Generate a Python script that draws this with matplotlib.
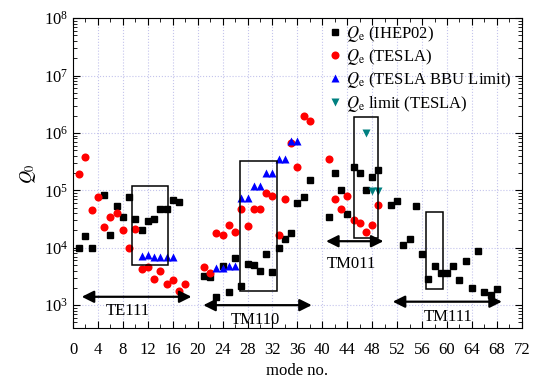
import matplotlib
matplotlib.use("Agg")
import matplotlib.pyplot as plt
from matplotlib.patches import Rectangle
from matplotlib.ticker import MultipleLocator, LogLocator, NullFormatter

plt.rcParams['font.family'] = ['Liberation Serif', 'DejaVu Serif']
plt.rcParams['mathtext.fontset'] = 'stix'

ihep_modes = [1, 2, 3, 5, 6, 7, 8, 9, 10, 11, 12, 13, 14, 15, 16, 17,
              21, 22, 23, 24, 25, 26, 27, 28, 29, 30, 31, 32, 33, 34, 35, 36, 37, 38,
              41, 42, 43, 44, 45, 46, 47, 48, 49, 51, 52, 53, 54, 55, 56,
              57, 58, 59, 60, 61, 62, 63, 64, 65, 66, 67, 68]
ihep_q = [1.0e4, 1.6e4, 1.0e4, 8.3e4, 1.7e4, 5.4e4, 3.5e4, 7.8e4, 3.2e4, 2.0e4, 2.9e4, 3.2e4, 4.8e4, 4.8e4, 6.7e4, 6.3e4,
          3.2e3, 3.1e3, 1.4e3, 4.9e3, 1.7e3, 6.5e3, 2.2e3, 5.2e3, 5.0e3, 3.9e3, 7.9e3, 3.8e3, 1.0e4, 1.4e4, 1.8e4, 6.0e4, 7.6e4, 1.5e5,
          3.4e4, 2.0e5, 1.0e5, 3.9e4, 2.5e5, 2.0e5, 1.0e5, 1.7e5, 2.3e5, 5.6e4, 6.6e4, 1.1e4, 1.4e4, 5.3e4, 7.9e3,
          2.9e3, 4.9e3, 3.7e3, 3.6e3, 4.8e3, 2.7e3, 5.9e3, 2.0e3, 8.7e3, 1.7e3, 1.5e3, 1.9e3]

tesla_modes = [1, 2, 3, 4, 5, 6, 7, 8, 9, 10, 11, 12, 13, 14, 15, 16, 17, 18,
               21, 22, 23, 24, 25, 26, 27, 28, 29, 30, 31, 32, 33, 34, 35, 36, 37, 38,
               41, 42, 43, 44, 45, 46, 47, 48, 49]
tesla_q = [1.9e5, 3.8e5, 4.6e4, 7.6e4, 2.3e4, 3.5e4, 4.0e4, 2.0e4, 9.8e3, 2.1e4, 4.2e3, 4.7e3, 2.9e3, 3.9e3, 2.3e3, 2.7e3, 1.8e3, 2.3e3,
           4.6e3, 3.6e3, 1.8e4, 1.7e4, 2.5e4, 1.9e4, 4.8e4, 2.4e4, 4.7e4, 4.8e4, 9.1e4, 8.1e4, 1.7e4, 7.2e4, 6.6e5, 2.5e5, 2.0e6, 1.6e6,
           3.5e5, 7.1e4, 4.7e4, 7.9e4, 3.0e4, 2.7e4, 1.9e4, 2.5e4, 5.5e4]

bbu_modes = [11, 12, 13, 14, 15, 16, 23, 24, 25, 26, 27, 28, 29, 30, 31, 32, 33, 34, 35, 36]
bbu_q = [7.2e3, 7.5e3, 7.0e3, 7.0e3, 6.8e3, 7.0e3, 4.4e3, 4.4e3, 4.8e3, 4.8e3,
         7.4e4, 7.4e4, 1.2e5, 1.2e5, 2.0e5, 2.0e5, 3.5e5, 3.5e5, 7.2e5, 7.2e5]

limit_modes = [47, 48, 49]
limit_q = [1.0e6, 9.6e4, 9.6e4]

# boxes: (x0, x1, y0, y1)
boxes = [(9.5, 15.3, 5.1e3, 1.17e5), (26.8, 32.7, 1.8e3, 3.2e5),
         (45.1, 49.0, 1.5e4, 1.9e6), (56.6, 59.4, 1.9e3, 4.2e4)]
# arrows: (x0, x1, y)
arrows = [(1.4, 19.0, 1.4e3), (20.9, 38.3, 1.0e3), (40.6, 49.8, 1.3e4), (51.3, 68.8, 1.15e3)]
band_labels = ['TE111', 'TM110', 'TM011', 'TM111']
band_label_pos = [(8.8, 7.8e2), (29.2, 5.6e2), (44.7, 5.2e3), (60.1, 6.3e2)]

xticks = list(range(0, 73, 4))

fig = plt.figure(figsize=(5.33, 3.85), dpi=100)
ax = fig.add_axes([0.137, 0.148, 0.842, 0.805])
ax.set_yscale('log')
ax.set_xlim(0, 72)
ax.set_ylim(400, 1e8)

ax.grid(True, which='major', color='#c4c4ec', linestyle=':', linewidth=0.8)
ax.set_axisbelow(True)

ax.plot(ihep_modes, ihep_q, 's', color='black', ms=5, ls='none',
        label=r'$Q_\mathrm{e}$ (IHEP02)', zorder=3)
ax.plot(tesla_modes, tesla_q, 'o', color='#ff0000', ms=5.8, ls='none', mec='none',
        label=r'$Q_\mathrm{e}$ (TESLA)', zorder=3)
ax.plot(bbu_modes, bbu_q, '^', color='#0000ff', ms=5.8, ls='none', mec='none',
        label=r'$Q_\mathrm{e}$ (TESLA BBU Limit)', zorder=4)
ax.plot(limit_modes, limit_q, 'v', color='#008080', ms=5.8, ls='none', mec='none',
        label=r'$Q_\mathrm{e}$ limit (TESLA)', zorder=4)

for (x0, x1, y0, y1) in boxes:
    ax.add_patch(Rectangle((x0, y0), x1 - x0, y1 - y0, fill=False,
                           edgecolor='black', linewidth=1.1, zorder=5))

for (x0, x1, y) in arrows:
    ax.annotate('', xy=(x1, y), xytext=(x0, y),
                arrowprops=dict(arrowstyle='<|-|>', color='black', lw=1.6,
                                mutation_scale=18, shrinkA=0, shrinkB=0), zorder=5)

for lab, (x, y) in zip(band_labels, band_label_pos):
    ax.text(x, y, lab, ha='center', va='center', fontsize=12)

ax.set_xticks(xticks)
ax.xaxis.set_minor_locator(MultipleLocator(2))
ax.yaxis.set_major_locator(LogLocator(base=10, numticks=20))
ax.yaxis.set_minor_locator(LogLocator(base=10, subs=range(2, 10), numticks=20))
ax.yaxis.set_minor_formatter(NullFormatter())
ax.tick_params(which='both', direction='in', top=True, right=True, labelsize=12)
ax.tick_params(which='major', length=5)
ax.tick_params(which='minor', length=3)
ax.tick_params(axis='x', pad=10)

ax.set_xlabel('mode no.', fontsize=12)
ax.set_ylabel(r'$Q_0$', fontsize=13)

ax.legend(loc='upper right', bbox_to_anchor=(0.98, 0.985), frameon=False,
          fontsize=12, handletextpad=0.2, borderaxespad=0.0, borderpad=0.05,
          labelspacing=0.2, handlelength=1.0)

fig.savefig('out.png', dpi=100)
